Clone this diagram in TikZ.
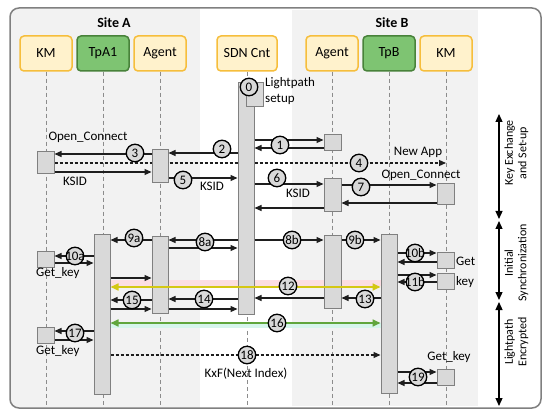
\documentclass[tikz,border=0pt]{standalone}
\usepackage{fontspec}
\setmainfont{Carlito}
\usetikzlibrary{arrows.meta}
\definecolor{cpanel}{RGB}{242,242,242}
\definecolor{cframe}{RGB}{128,128,128}
\definecolor{cboxfill}{RGB}{255,242,204}
\definecolor{cboxline}{RGB}{246,190,60}
\definecolor{cgfill}{RGB}{126,196,114}
\definecolor{cgline}{RGB}{72,130,58}
\definecolor{cbarfill}{RGB}{217,217,217}
\definecolor{cbarline}{RGB}{128,128,128}
\definecolor{clife}{RGB}{140,140,140}
\definecolor{carrow}{RGB}{30,30,30}
\definecolor{cyel}{RGB}{212,200,20}
\definecolor{cgrn}{RGB}{96,166,60}
\definecolor{cpink}{RGB}{252,222,226}
\definecolor{ccyan}{RGB}{214,246,236}
\pgfdeclarelayer{back}
\pgfdeclarelayer{mid}
\pgfsetlayers{back,mid,main}
\newcommand\mymsg[4][]{\draw[msg,#1] (#2 |- 0,#4) -- (#3 |- 0,#4);}
\tikzset{
  tip/.tip={Triangle[length=7pt,width=6pt]},
  msg/.style={line width=1.25pt, draw=carrow, -tip},
  life/.style={draw=clife, line width=0.9pt, dash pattern=on 4pt off 3pt},
  actor/.style={rectangle, rounded corners=4pt, line width=1.5pt, minimum width=52pt, minimum height=35pt, inner sep=0pt, font=\fontsize{14}{16}\selectfont},
  ybox/.style={actor, fill=cboxfill, draw=cboxline},
  gbox/.style={actor, fill=cgfill, draw=cgline},
  bar/.style={rectangle, draw=cbarline, fill=cbarfill, line width=1pt, inner sep=0pt},
  num/.style={circle, draw=black, line width=1.3pt, fill=cbarfill, minimum size=17.5pt, inner sep=0pt, font=\fontsize{13}{13}\selectfont},
  lbl/.style={inner sep=0pt, font=\fontsize{13}{15}\selectfont},
  hdr/.style={inner sep=0pt, font=\fontsize{14}{16}\selectfont\bfseries},
  phase/.style={line width=1.25pt, draw=black, {Triangle[length=8pt,width=7pt]}-{Triangle[length=8pt,width=7pt]}},
  phlbl/.style={inner sep=0pt, rotate=90, align=center, font=\fontsize{12}{13.5}\selectfont}
}
\begin{document}
\begin{tikzpicture}[x=1pt,y=-1pt]
\useasboundingbox (0,0) rectangle (550,420);
\begin{pgfonlayer}{back}
\fill[white] (0,0) rectangle (550,420);
\begin{scope}
\clip[rounded corners=9pt] (10,8) rectangle (541,408);
\fill[cpanel] (10,8) rectangle (200,408);
\end{scope}
\fill[cpanel] (292,10) rectangle (478,406);
\draw[cframe, line width=1.5pt, rounded corners=9pt] (10,8) rectangle (541,408);
\end{pgfonlayer}

% headers
\node[hdr] (siteA) at (114,23) {Site A};
\node[hdr] (siteB) at (392,23) {Site B};

% actors
\node[ybox] (kmA) at (46,53.5) {KM};
\node[gbox] (tpA) at (103,53.5) {TpA1};
\node[ybox] (agA) at (160,53.5) {Agent};
\node[ybox, minimum width=60pt] (sdn) at (247,53.5) {SDN Cnt};
\node[ybox] (agB) at (332,53.5) {Agent};
\node[gbox] (tpB) at (389,53.5) {TpB};
\node[ybox] (kmB) at (446,53.5) {KM};

\coordinate (bot) at (0,405);

% bars
\node[bar, minimum width=16pt, minimum height=231pt] (sdnbar) at (246,198.5) {};
\node[bar, minimum width=17pt, minimum height=24pt] (zbox) at (254.5,95) {};
\node[bar, minimum width=17pt, minimum height=22pt] (kmA1) at (45.5,163) {};
\node[bar, minimum width=16pt, minimum height=33pt] (agA1) at (160,166.5) {};
\node[bar, minimum width=17pt, minimum height=16pt] (agB1) at (332.5,143) {};
\node[bar, minimum width=17pt, minimum height=33pt] (agB2) at (332.5,195.5) {};
\node[bar, minimum width=17pt, minimum height=21pt] (kmB1) at (445.5,194.5) {};
\node[bar, minimum width=16pt, minimum height=159pt] (tpAbar) at (102,314.5) {};
\node[bar, minimum width=16pt, minimum height=76pt] (agA2) at (160,275) {};
\node[bar, minimum width=17pt, minimum height=72pt] (agB3) at (332.5,272) {};
\node[bar, minimum width=16pt, minimum height=158pt] (tpBbar) at (389,314) {};
\node[bar, minimum width=17pt, minimum height=16pt] (kmA2) at (45.5,259) {};
\node[bar, minimum width=17pt, minimum height=16pt] (kmA3) at (45.5,335) {};
\node[bar, minimum width=17pt, minimum height=16pt] (kmB2) at (445.5,260) {};
\node[bar, minimum width=17pt, minimum height=16pt] (kmB3) at (445.5,281.5) {};
\node[bar, minimum width=17pt, minimum height=16pt] (kmB4) at (445.5,377) {};

\begin{pgfonlayer}{mid}
\foreach \n in {kmA,tpA,agA,sdn,agB,tpB,kmB}
  \draw[life] (\n.south) -- (\n.south |- bot);
\fill[cpink] (tpAbar.east |- 0,280) rectangle (tpBbar.west |- 0,286);
\fill[ccyan] (tpAbar.east |- 0,323) rectangle (tpBbar.west |- 0,328);
\draw[msg, dash pattern=on 3pt off 2pt] (kmA1.east |- 0,163) -- (kmB.south |- 0,163);
\draw[msg, dash pattern=on 3pt off 2pt] (tpAbar.east |- 0,355) -- (tpBbar.west |- 0,355);
\end{pgfonlayer}

% messages
\mymsg{sdnbar.east}{agB1.west}{140}
\mymsg{agB1.west}{sdnbar.east}{148}
\mymsg{sdnbar.west}{agA1.east}{153}
\mymsg{agA1.west}{kmA1.east}{154}
\mymsg{kmA1.east}{agA1.west}{172}
\mymsg{agA1.east}{sdnbar.west}{178}
\mymsg{sdnbar.east}{agB2.west}{184}
\mymsg{agB2.west}{sdnbar.east}{208}
\mymsg{agB2.east}{kmB1.west}{185}
\mymsg{kmB1.west}{agB2.east}{203}
\mymsg{sdnbar.west}{agA2.east}{240}
\mymsg{agA2.east}{sdnbar.west}{248}
\mymsg{agA2.west}{tpAbar.east}{240}
\mymsg{sdnbar.east}{agB3.west}{240}
\mymsg{agB3.east}{tpBbar.west}{240}
\mymsg{tpAbar.west}{kmA2.east}{256}
\mymsg{kmA2.east}{tpAbar.west}{263}
\mymsg{tpBbar.east}{kmB2.west}{253}
\mymsg{kmB2.west}{tpBbar.east}{262}
\mymsg{tpBbar.east}{kmB3.west}{275}
\mymsg{kmB3.west}{tpBbar.east}{282}
\mymsg{tpAbar.east}{agA2.west}{278}
\mymsg{tpBbar.west}{agB3.east}{298}
\mymsg{agB3.west}{sdnbar.east}{298}
\mymsg{sdnbar.west}{agA2.east}{299}
\mymsg{agA2.east}{sdnbar.west}{309}
\mymsg{agA2.west}{tpAbar.east}{300}
\mymsg{tpAbar.east}{agA2.west}{309}
\mymsg{tpAbar.west}{kmA3.east}{331}
\mymsg{kmA3.east}{tpAbar.west}{340}
\mymsg{tpBbar.east}{kmB4.west}{372}
\mymsg{kmB4.west}{tpBbar.east}{383}
\draw[line width=1.6pt, draw=cyel, tip-tip, tip/.tip={Triangle[length=8pt,width=7pt]}] (tpAbar.east |- 0,287) -- (tpBbar.west |- 0,287);
\draw[line width=1.6pt, draw=cgrn, tip-tip, tip/.tip={Triangle[length=8pt,width=7pt]}] (tpAbar.east |- 0,323) -- (tpBbar.west |- 0,323);

% labels
\node[lbl, anchor=west, align=left, font=\fontsize{13}{16}\selectfont] (lps) at (265,91) {Lightpath\\setup};
\node[lbl] (oc1) at (88,137) {Open\_Connect};
\node[lbl] (ks1) at (75,181) {KSID};
\node[lbl] (ks2) at (212,186) {KSID};
\node[lbl] (ks3) at (298,193) {KSID};
\node[lbl] (napp) at (418,152) {New App};
\node[lbl] (oc2) at (421,175) {Open\_Connect};
\node[lbl, anchor=west] (gk1) at (36,273) {Get\_key};
\node[lbl, anchor=west, align=left, font=\fontsize{13}{20}\selectfont] (gk2) at (456,272) {Get\\key};
\node[lbl, anchor=west] (gk3) at (36,351) {Get\_key};
\node[lbl] (gk4) at (449,357) {Get\_key};
\node[lbl] (kxf) at (246,374) {KxF(Next Index)};

% numbers
\node[num] (c0) at (249,87) {0};
\node[num] (c1) at (280,145) {1};
\node[num] (c2) at (222,149) {2};
\node[num] (c3) at (135,153) {3};
\node[num] (c4) at (359,163) {4};
\node[num] (c5) at (183,180) {5};
\node[num] (c6) at (277,178) {6};
\node[num] (c7) at (361,187) {7};
\node[num] (c8a) at (205,242) {\makebox[0pt]{8a}};
\node[num] (c9a) at (134,238) {\makebox[0pt]{9a}};
\node[num] (c8b) at (292,240) {\makebox[0pt]{8b}};
\node[num] (c9b) at (355,240) {\makebox[0pt]{9b}};
\node[num] (c10a) at (75,256) {\makebox[0pt]{10a}};
\node[num] (c10b) at (415,253) {\makebox[0pt]{10b}};
\node[num] (c11b) at (415,282) {\makebox[0pt]{11b}};
\node[num] (c12) at (288,286) {\makebox[0pt]{12}};
\node[num] (c13) at (365,299) {\makebox[0pt]{13}};
\node[num] (c14) at (204,299) {\makebox[0pt]{14}};
\node[num] (c15) at (132,300) {\makebox[0pt]{15}};
\node[num] (c16) at (277,323) {\makebox[0pt]{16}};
\node[num] (c17) at (75,333) {\makebox[0pt]{17}};
\node[num] (c18) at (247,355) {\makebox[0pt]{18}};
\node[num] (c19) at (418,377) {\makebox[0pt]{19}};

% phases
\coordinate (p1) at (499,114);
\coordinate (p2) at (499,219);
\coordinate (p3) at (499,221);
\coordinate (p4) at (499,300);
\coordinate (p5) at (499,302);
\coordinate (p6) at (499,406);
\draw[phase] (p1) -- (p2);
\draw[phase] (p3) -- (p4);
\draw[phase] (p5) -- (p6);
\node[phlbl] (ph1) at (516.5,153) {Key Exchange\\and Set-up};
\node[phlbl] (ph2) at (516.5,263) {Initial\\Synchronization};
\node[phlbl] (ph3) at (516.5,342) {Lightpath\\Encrypted};
\end{tikzpicture}
\end{document}
